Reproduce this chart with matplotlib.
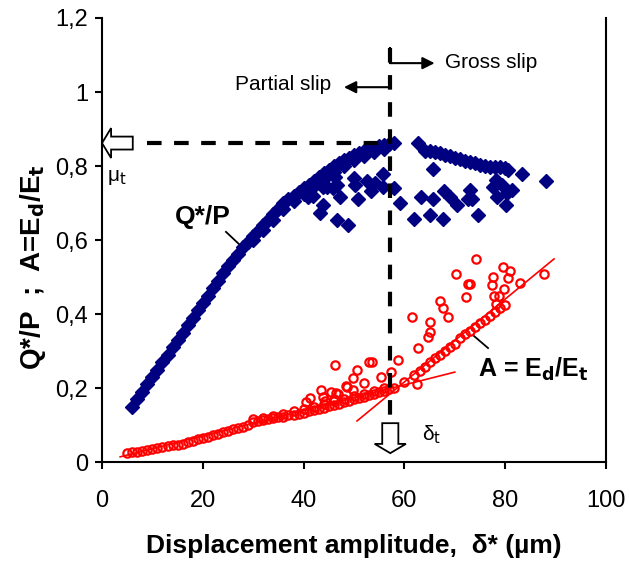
import matplotlib
matplotlib.use("Agg")
import matplotlib.pyplot as plt
from matplotlib.patches import FancyArrow

plt.rcParams['font.family'] = ['Liberation Sans', 'DejaVu Sans']

# Q*/P main (partial slip) curve
qp_x = [6, 7, 8, 9, 10, 11, 12, 13, 14, 15, 16, 17, 18, 19, 20, 21, 22, 23, 24, 25,
        26, 27, 28, 29, 30, 31, 32, 33, 34, 35, 36, 37, 38, 39, 40, 41, 42, 43, 44, 45,
        46, 47, 48, 49, 50, 51, 52, 53, 54, 55, 56, 57, 58]
qp_y = [0.15, 0.17, 0.19, 0.21, 0.23, 0.25, 0.27, 0.29, 0.31, 0.33, 0.35, 0.37, 0.39, 0.41, 0.43, 0.45, 0.47, 0.49, 0.51, 0.53,
        0.545, 0.563, 0.58, 0.595, 0.61, 0.625, 0.64, 0.655, 0.67, 0.685, 0.70, 0.71, 0.72, 0.73, 0.74, 0.75, 0.76, 0.77, 0.78, 0.79,
        0.80, 0.808, 0.815, 0.822, 0.83, 0.835, 0.84, 0.845, 0.85, 0.853, 0.857, 0.86, 0.862]
# lower edge of the thick Q*/P band (x 30-56)
qb_x = [30, 32, 34, 36, 38, 40, 42, 44, 46, 48, 50, 52, 54, 56]
qb_y = [0.60, 0.628, 0.655, 0.683, 0.705, 0.725, 0.745, 0.765, 0.785, 0.80, 0.815, 0.827, 0.838, 0.846]
# Q*/P gross slip branch
gs_x = [62.7, 64, 65, 66, 67, 68, 69, 70, 71, 72, 73, 74, 75, 76, 77, 78, 79, 80, 80.5]
gs_y = [0.862, 0.84, 0.84, 0.838, 0.835, 0.83, 0.826, 0.822, 0.818, 0.814, 0.81, 0.807, 0.803, 0.80, 0.798, 0.797, 0.796, 0.794, 0.79]
# Q*/P scattered points
qs_x = [40.9, 41.9, 43.3, 43.8, 43.9, 44.6, 45.9, 46.2, 46.6, 46.6, 47.2, 48.9, 50.0, 50.2, 50.8, 52.6, 53.4, 54.2,
        55.8, 55.8, 57.9, 59.1, 61.9, 63.3, 65.1, 65.7, 65.7, 67.7, 67.9, 69.0, 70.4, 72.6, 73.0, 73.4, 74.6,
        77.6, 78.2, 78.4, 79.4, 80.2, 80.4, 81.3, 83.3, 88.1]
qs_y = [0.716, 0.72, 0.673, 0.695, 0.744, 0.744, 0.74, 0.77, 0.748, 0.654, 0.716, 0.64, 0.767, 0.749, 0.711, 0.759, 0.732, 0.754,
        0.778, 0.744, 0.74, 0.70, 0.657, 0.716, 0.668, 0.711, 0.792, 0.657, 0.732, 0.716, 0.695, 0.711, 0.735, 0.711, 0.668,
        0.744, 0.762, 0.716, 0.749, 0.695, 0.727, 0.735, 0.778, 0.76]

# A = Ed/Et : partial slip band
a_x = [5, 6, 7, 8, 9, 10, 11, 12, 13, 14, 15, 16, 17, 18, 19, 20, 21, 22, 23, 24, 25, 26, 27, 28, 29,
       30, 31, 32, 33, 34, 35, 36, 37, 38, 39, 40, 41, 42, 43, 44, 45, 46, 47, 48, 49, 50, 51, 52, 53, 54, 55, 56, 57]
a_y = [0.025, 0.027, 0.028, 0.03, 0.032, 0.035, 0.037, 0.04, 0.042, 0.045, 0.047, 0.05, 0.053, 0.057, 0.061, 0.065, 0.068, 0.072, 0.076, 0.08, 0.084, 0.088, 0.091, 0.095, 0.1,
       0.108, 0.111, 0.113, 0.116, 0.118, 0.121, 0.123, 0.126, 0.128, 0.131, 0.133, 0.137, 0.14, 0.144, 0.147, 0.151, 0.155, 0.158, 0.162, 0.166, 0.17, 0.173, 0.177, 0.181, 0.185, 0.188, 0.192, 0.197]
# upper edge of the thick A band (x 30-57)
ab_x = [30, 32, 34, 36, 38, 40, 42, 44, 46, 48, 50, 52, 54, 56]
ab_y = [0.115, 0.12, 0.125, 0.13, 0.137, 0.143, 0.15, 0.157, 0.164, 0.171, 0.178, 0.185, 0.192, 0.2]
# A : gross slip band
ag_x = [58, 60, 62, 63, 64, 65, 66, 67, 68, 69, 70, 71, 72, 73, 74, 75, 76, 77, 78, 79, 80]
ag_y = [0.20, 0.215, 0.235, 0.245, 0.258, 0.27, 0.28, 0.29, 0.30, 0.31, 0.32, 0.335, 0.345, 0.355, 0.365, 0.375, 0.385, 0.395, 0.405, 0.415, 0.425]
# A : scattered points
as_x = [40.5, 41.3, 43.5, 43.8, 44.2, 45.4, 46.0, 46.2, 46.4, 46.8, 48.4, 48.6, 49.8, 49.8, 50.6, 52.0, 53.0, 53.6,
        55.4, 57.3, 58.7, 61.5, 62.5, 62.7, 64.7, 65.1, 65.1, 67.1, 67.7, 68.7, 70.2, 72.2, 72.6, 73.0, 74.2,
        77.4, 77.6, 77.8, 78.2, 78.8, 79.6, 79.8, 80.6, 81.0, 82.9, 87.7]
as_y = [0.163, 0.173, 0.195, 0.176, 0.165, 0.19, 0.17, 0.262, 0.187, 0.184, 0.205, 0.203, 0.227, 0.195, 0.249, 0.214, 0.27, 0.27,
        0.23, 0.243, 0.276, 0.392, 0.211, 0.308, 0.338, 0.378, 0.351, 0.435, 0.416, 0.392, 0.508, 0.446, 0.481, 0.481, 0.549,
        0.478, 0.50, 0.449, 0.427, 0.449, 0.527, 0.468, 0.497, 0.516, 0.484, 0.508]

# trend lines (end points)
t1_x = [3.6, 70.0]
t1_y = [0.014, 0.243]
t2_x = [50.6, 89.7]
t2_y = [0.111, 0.549]

x_ticks = [0, 20, 40, 60, 80, 100]
y_ticks = [0, 0.2, 0.4, 0.6, 0.8, 1.0, 1.2]
y_ticklabels = ['0', '0,2', '0,4', '0,6', '0,8', '1', '1,2']

delta_t = 57.2
mu_t = 0.862

fig = plt.figure(figsize=(6.29, 5.66), dpi=100)
ax = fig.add_axes([0.1622, 0.1837, 0.8012, 0.7845])

blue = '#000080'
red = '#FF0000'

ax.plot(t1_x, t1_y, color=red, lw=1.2, zorder=2)
ax.plot(t2_x, t2_y, color=red, lw=1.2, zorder=2)

rkw = dict(ls='none', marker='o', ms=6, mfc='none', mec=red, mew=1.6, zorder=3)
ax.plot(a_x, a_y, **rkw)
ax.plot(ab_x, ab_y, **rkw)
ax.plot(ag_x, ag_y, **rkw)
ax.plot(as_x, as_y, **rkw)

bkw = dict(ls='none', marker='D', ms=7, color=blue, mec=blue, zorder=3)
ax.plot(qp_x, qp_y, **bkw)
ax.plot(qb_x, qb_y, **bkw)
ax.plot(gs_x, gs_y, **bkw)
ax.plot(qs_x, qs_y, **bkw)

ax.set_xlim(0, 100)
ax.set_ylim(0, 1.2)
ax.set_xticks(x_ticks)
ax.set_yticks(y_ticks)
ax.set_yticklabels(y_ticklabels)
ax.tick_params(direction='out', length=5, width=1.5, labelsize=17, pad=15)
ax.tick_params(axis='y', pad=5)
ax.spines['top'].set_visible(False)
for s in ['left', 'bottom', 'right']:
    ax.spines[s].set_linewidth(1.5)

ax.set_xlabel('Displacement amplitude,  δ* (µm)', fontsize=19, fontweight='bold', labelpad=16)
ax.set_ylabel('Q*/P  ;  A=E$_\\mathbf{d}$/E$_\\mathbf{t}$', fontsize=20, fontweight='bold')
ax.yaxis.set_label_coords(-0.108, 0.44)

# dashed guide lines
ax.plot([delta_t, delta_t], [1.12, 0.11], color='black', lw=3, dashes=(3.5, 3), zorder=4)
ax.plot([8.9, delta_t], [mu_t, mu_t], color='black', lw=3, dashes=(3.5, 3), zorder=4)

# hollow arrows
ax.add_patch(FancyArrow(6.1, mu_t, -6.1, 0, width=0.035, head_width=0.081, head_length=1.8,
                        length_includes_head=True, fc='white', ec='black', lw=1.3, clip_on=False, zorder=5))
ax.add_patch(FancyArrow(delta_t, 0.105, 0, -0.081, width=3.2, head_width=6.2, head_length=0.025,
                        length_includes_head=True, fc='white', ec='black', lw=1.3, clip_on=False, zorder=5))

ax.text(3, 0.77, 'μ$_\\mathrm{t}$', fontsize=15, ha='center', va='center')
ax.text(63.5, 0.073, 'δ$_\\mathrm{t}$', fontsize=15, ha='left', va='center')

# slip regime arrows
ax.plot([delta_t, delta_t], [1.12, 1.078], color='black', lw=1.5, zorder=4)
ax.annotate('', xy=(66, 1.078), xytext=(delta_t, 1.078),
            arrowprops=dict(arrowstyle='-|>', color='black', lw=1.5, mutation_scale=18, shrinkA=0, shrinkB=0))
ax.annotate('', xy=(48, 1.013), xytext=(delta_t, 1.013),
            arrowprops=dict(arrowstyle='-|>', color='black', lw=1.5, mutation_scale=18, shrinkA=0, shrinkB=0))
ax.text(68, 1.081, 'Gross slip', fontsize=15, ha='left', va='center')
ax.text(26.4, 1.019, 'Partial slip', fontsize=15, ha='left', va='center')

# series labels with leaders
ax.text(20, 0.662, 'Q*/P', fontsize=19, fontweight='bold', ha='center', va='center')
ax.plot([24.6, 27.8], [0.622, 0.581], color='black', lw=1.3)
ax.text(74.6, 0.249, 'A = E$_\\mathbf{d}$/E$_\\mathbf{t}$', fontsize=18, fontweight='bold', ha='left', va='center')
ax.plot([73.6, 76.6], [0.343, 0.308], color='black', lw=1.3)

fig.savefig('out.png', dpi=100)
